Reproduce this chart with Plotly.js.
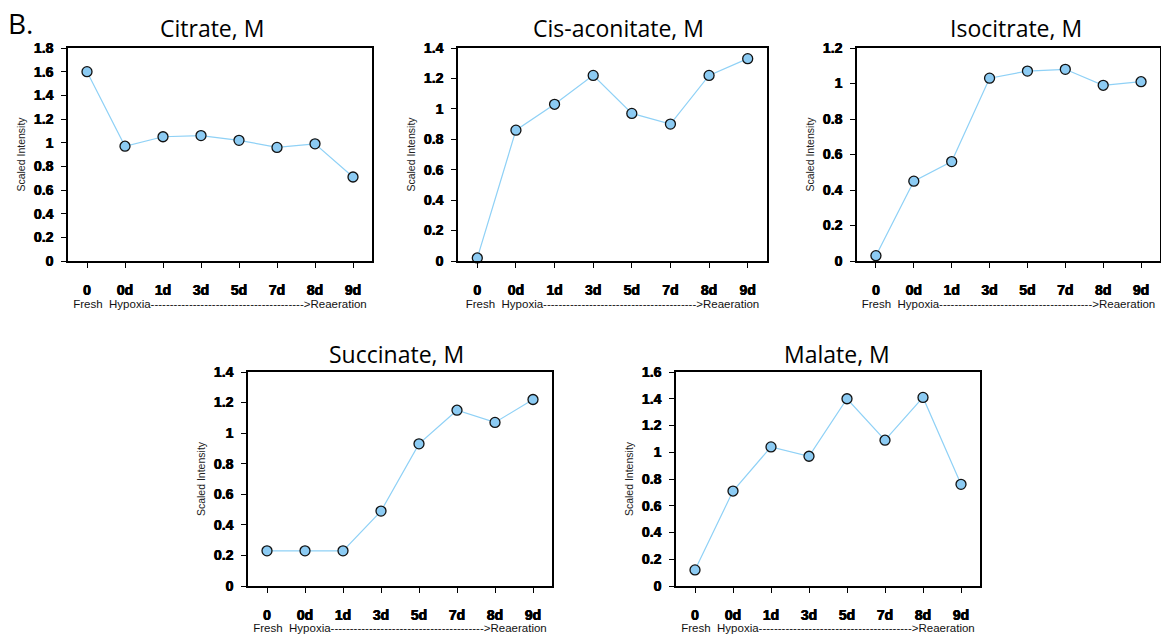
<!DOCTYPE html>
<html><head><meta charset="utf-8">
<script src="https://cdn.plot.ly/plotly-3.0.1.min.js"></script>
<style>html,body{margin:0;padding:0;background:#fff}</style>
</head><body><div id="chart" style="width:1161px;height:634px"></div>
<script>
// ---- data ----
const timepoints = ["0", "0d", "1d", "3d", "5d", "7d", "8d", "9d"];
const citrate      = [1.60, 0.97, 1.05, 1.06, 1.02, 0.96, 0.99, 0.71];
const cisAconitate = [0.02, 0.86, 1.03, 1.22, 0.97, 0.90, 1.22, 1.33];
const isocitrate   = [0.03, 0.45, 0.56, 1.03, 1.07, 1.08, 0.99, 1.01];
const succinate    = [0.23, 0.23, 0.23, 0.49, 0.93, 1.15, 1.07, 1.22];
const malate       = [0.12, 0.71, 1.04, 0.97, 1.40, 1.09, 1.41, 0.76];
const panelTitles  = ["Citrate, M", "Cis-aconitate, M", "Isocitrate, M", "Succinate, M", "Malate, M"];
const yMaxima      = [1.8, 1.4, 1.2, 1.4, 1.6];
const yTitle = "Scaled Intensity";
const xSubtitle = "Fresh  Hypoxia" + "-".repeat(40) + ">Reaeration";
const series = [citrate, cisAconitate, isocitrate, succinate, malate];

// ---- layout geometry (pixels) ----
const W = 1161, H = 634;
const boxes = [
  {l: 68,  r: 372,  t: 48,  b: 261, tx: 212, ty: 28},
  {l: 458, r: 767,  t: 48,  b: 261, tx: 618, ty: 28},
  {l: 857, r: 1160, t: 48,  b: 261, tx: 1016, ty: 28},
  {l: 248, r: 552,  t: 372, b: 586, tx: 396, ty: 354},
  {l: 676, r: 980,  t: 372, b: 586, tx: 837, ty: 354}
];
const axFont = "Liberation Sans";
const heavy = "0.35px 0 0 #000, -0.35px 0 0 #000";

const data = [];
const layout = {
  width: W, height: H,
  margin: {l: 0, r: 0, t: 0, b: 0},
  paper_bgcolor: "#fff", plot_bgcolor: "#fff",
  showlegend: false,
  annotations: [],
  font: {family: axFont, color: "#000"}
};

series.forEach((vals, i) => {
  const n = i + 1;
  const bx = boxes[i];
  const xk = "xaxis" + (n === 1 ? "" : n);
  const yk = "yaxis" + (n === 1 ? "" : n);
  data.push({
    type: "scatter", mode: "lines+markers",
    x: timepoints, y: vals,
    xaxis: "x" + (n === 1 ? "" : n), yaxis: "y" + (n === 1 ? "" : n),
    line: {color: "#8fd1f6", width: 1.2},
    marker: {size: 10, color: "#8ccbf3", line: {color: "#111", width: 1.3}},
    cliponaxis: false,
    hoverinfo: "x+y"
  });
  layout[xk] = {
    domain: [bx.l / W, bx.r / W],
    anchor: "y" + (n === 1 ? "" : n),
    type: "category", range: [-0.5, 7.5],
    showline: true, linecolor: "#000", linewidth: 1.5, mirror: true,
    ticks: "outside", ticklen: 5, tickwidth: 1, tickcolor: "#000",
    ticklabelstandoff: 10,
    tickfont: {family: axFont, size: 14, weight: "bold", color: "#000", shadow: heavy},
    showgrid: false, zeroline: false, fixedrange: true,
    title: {text: xSubtitle, font: {family: axFont, size: 11.5, color: "#111"}, standoff: 3}
  };
  layout[yk] = {
    domain: [1 - bx.b / H, 1 - bx.t / H],
    anchor: "x" + (n === 1 ? "" : n),
    range: [0, yMaxima[i]], dtick: 0.2, tick0: 0,
    showline: true, linecolor: "#000", linewidth: 1.5, mirror: true,
    ticks: "outside", ticklen: 5, tickwidth: 1, tickcolor: "#000",
    ticklabelstandoff: 5,
    tickfont: {family: axFont, size: 14, weight: "bold", color: "#000", shadow: heavy},
    showgrid: false, zeroline: false, fixedrange: true,
    title: {text: yTitle, font: {family: axFont, size: 10.5, color: "#222"}, standoff: 6}
  };
  layout.annotations.push({
    text: panelTitles[i], xref: "paper", yref: "paper",
    x: bx.tx / W, y: 1 - bx.ty / H, xanchor: "center", yanchor: "middle",
    showarrow: false, font: {family: "Open Sans", size: 23, color: "#000"}
  });
});

layout.annotations.push({
  text: "B.", xref: "paper", yref: "paper", x: 6 / W, y: 1 - 23 / H,
  xanchor: "left", yanchor: "middle", showarrow: false,
  font: {family: "Open Sans", size: 28, color: "#000"}
});

Plotly.newPlot("chart", data, layout, {displayModeBar: false});
</script>
</body></html>
